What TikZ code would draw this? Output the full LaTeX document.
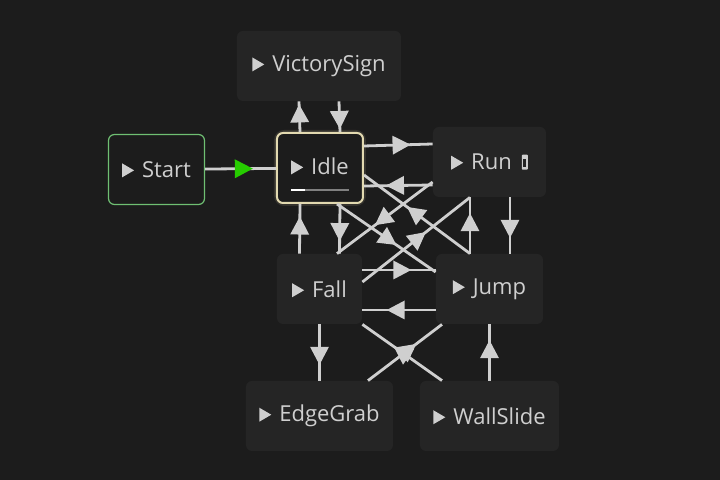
\documentclass[tikz,border=0pt]{standalone}
\usepackage{fontspec}
\setsansfont{Open Sans}
\usetikzlibrary{shapes.geometric}
\definecolor{canvas}{HTML}{1C1C1C}
\definecolor{nodebg}{HTML}{252525}
\definecolor{txt}{HTML}{CFCFCF}
\definecolor{wire}{HTML}{CFCFCF}
\definecolor{cream}{HTML}{E2D9B0}
\definecolor{startgreen}{HTML}{6FBF73}
\newcommand{\playicon}{\tikz\fill[txt, sharp corners] (0,0) -- (0,7pt) -- (6pt,3.5pt) -- cycle;\hspace{4pt}}
\newcommand{\scripticon}{\hspace{5pt}\tikz{\fill[txt, rounded corners=0.4pt] (0,0) rectangle (3pt,7.5pt);
  \fill[nodebg, sharp corners] (0.8pt,1.5pt) rectangle (2.2pt,5.5pt);}}
\tikzset{
  state/.style={fill=nodebg, rounded corners=3pt, minimum height=35pt,
    text=txt, font=\sffamily\fontsize{11}{13}\selectfont, inner sep=0pt},
  trans/.style={draw=wire, line width=1.4pt},
  tip/.style={isosceles triangle, isosceles triangle stretches, fill=wire,
    minimum width=9.5pt, minimum height=9pt, inner sep=0pt, sloped,
    allow upside down, pos=.5, sharp corners},
}
\begin{document}
\begin{tikzpicture}[x=0.5pt,y=-0.5pt]
\fill[canvas] (0,0) rectangle (720,480);
\useasboundingbox (0,0) rectangle (720,480);
% states
\node[state, minimum width=82pt] (victory) at (319,66) {\playicon VictorySign};
\node[state, fill=canvas, draw=startgreen, line width=0.6pt, minimum width=48pt] (start) at (156.5,169.5) {\playicon Start};
\fill[cream, opacity=0.12, rounded corners=5pt] (274,130) rectangle (366,206);
\node[state, fill=canvas, draw=cream, line width=1pt, minimum width=43pt] (idle) at (320,168) {\raisebox{2pt}{\playicon Idle}};
\node[state, minimum width=56.5pt] (run) at (489.5,162) {\playicon Run\scripticon};
\node[state, minimum width=42.5pt] (fall) at (319.5,289) {\playicon Fall};
\node[state, minimum width=53.5pt] (jump) at (489.5,289) {\playicon Jump};
\node[state, minimum width=73.5pt] (edgegrab) at (319.5,416) {\playicon EdgeGrab};
\node[state, minimum width=69.5pt] (wallslide) at (489.5,416) {\playicon WallSlide};
% progress bar
\draw[gray, line width=1pt] ([xshift=-14.5pt,yshift=-11pt]idle.center) -- ([xshift=14.5pt,yshift=-11pt]idle.center);
\draw[white, line width=1pt] ([xshift=-14.5pt,yshift=-11pt]idle.center) -- ([xshift=-7.5pt,yshift=-11pt]idle.center);
% transitions
\draw[trans] (start) -- (idle) node[tip, fill=green!75!black!80!lime] {};
\draw[trans] ([xshift=-10pt]idle.north) -- ([xshift=-10pt]victory.south) node[tip] {};
\draw[trans] ([xshift=10pt]victory.south) -- ([xshift=10pt]idle.north) node[tip] {};
\draw[trans] ([yshift=11pt]idle.east) -- ([yshift=9pt]run.west) node[tip] {};
\draw[trans] ([yshift=-11.5pt]run.west) -- ([yshift=-9pt]idle.east) node[tip] {};
\draw[trans] ([xshift=-9.75pt]jump.north) -- ([yshift=-3.5pt]idle.east) node[tip] {};
\draw[trans] ([xshift=8.5pt]idle.south) -- ([yshift=8.5pt]jump.west) node[tip] {};
\draw[trans] ([yshift=-10pt]run.west) -- ([xshift=8.75pt]fall.north) node[tip] {};
\draw[trans] ([yshift=3.5pt]fall.east) -- ([xshift=-9.75pt]run.south) node[tip] {};
\draw[trans] ([xshift=-9.75pt]jump.north) -- ([xshift=-9.75pt]run.south) node[tip] {};
\draw[trans] ([xshift=10.25pt]run.south) -- ([xshift=10.25pt]jump.north) node[tip] {};
\draw[trans] ([xshift=-10pt]fall.north) -- ([xshift=-10pt]idle.south) node[tip] {};
\draw[trans] ([xshift=10pt]idle.south) -- ([xshift=10pt]fall.north) node[tip] {};
\draw[trans] ([yshift=9.5pt]fall.east) -- ([yshift=9.5pt]jump.west) node[tip] {};
\draw[trans] ([yshift=-10.5pt]jump.west) -- ([yshift=-10.5pt]fall.east) node[tip] {};
\draw[trans] (fall) -- (edgegrab) node[tip] {};
\draw[trans] (wallslide) -- (jump) node[tip] {};
\draw[trans] ([xshift=-23.75pt]wallslide.north) -- (fall.south east) node[tip, pos=.48] {};
\draw[trans] ([xshift=24.25pt]edgegrab.north) -- ([xshift=-23.75pt]jump.south) node[tip, pos=.52] {};
\end{tikzpicture}
\end{document}
